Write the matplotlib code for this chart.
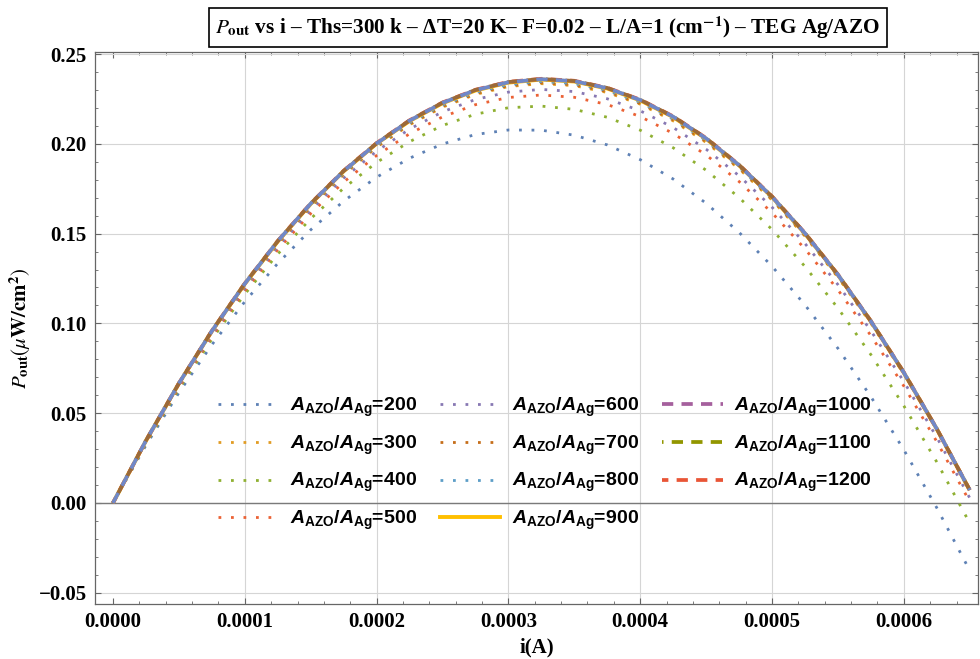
import matplotlib
matplotlib.use("Agg")
import matplotlib.pyplot as plt
from matplotlib.lines import Line2D
from matplotlib.ticker import FixedLocator, MultipleLocator, FuncFormatter

# ---------------- data ----------------
current_A = [0.0, 0.000025, 0.00005, 0.000075, 0.0001, 0.000125, 0.00015, 0.000175,
             0.0002, 0.000225, 0.00025, 0.000275, 0.0003, 0.000325, 0.00035, 0.000375,
             0.0004, 0.000425, 0.00045, 0.000475, 0.0005, 0.000525, 0.00055, 0.000575,
             0.0006, 0.000625, 0.00065]

ratios = [200, 300, 400, 500, 600, 700, 800, 900, 1000, 1100, 1200]

p_200 = [0, 0.0321, 0.0614, 0.0881, 0.1121, 0.1334, 0.1521, 0.1681, 0.1814, 0.1920, 0.1999, 0.2052, 0.2077, 0.2076,
         0.2048, 0.1994, 0.1912, 0.1804, 0.1669, 0.1507, 0.1318, 0.1103, 0.0861, 0.0592, 0.0296, -0.0027, -0.0376]
p_300 = [0, 0.0343, 0.0659, 0.0947, 0.1208, 0.1442, 0.1649, 0.1829, 0.1981, 0.2106, 0.2204, 0.2275, 0.2319, 0.2335,
         0.2324, 0.2286, 0.2221, 0.2128, 0.2008, 0.1861, 0.1687, 0.1486, 0.1257, 0.1001, 0.0718, 0.0408, 0.0071]
p_400 = [0, 0.0331, 0.0635, 0.0912, 0.1163, 0.1386, 0.1583, 0.1753, 0.1896, 0.2012, 0.2102, 0.2165, 0.2201, 0.2210,
         0.2192, 0.2148, 0.2076, 0.1978, 0.1853, 0.1701, 0.1523, 0.1317, 0.1085, 0.0826, 0.0541, 0.0228, -0.0112]
p_500 = [0, 0.0336, 0.0645, 0.0927, 0.1182, 0.1411, 0.1612, 0.1787, 0.1935, 0.2056, 0.2150, 0.2218, 0.2258, 0.2272,
         0.2259, 0.2219, 0.2152, 0.2058, 0.1938, 0.1790, 0.1616, 0.1415, 0.1187, 0.0932, 0.0651, 0.0342, 0.0007]
p_600 = [0, 0.0340, 0.0652, 0.0938, 0.1196, 0.1428, 0.1632, 0.1809, 0.1959, 0.2082, 0.2178, 0.2247, 0.2288, 0.2303,
         0.2291, 0.2251, 0.2184, 0.2091, 0.1970, 0.1822, 0.1647, 0.1445, 0.1216, 0.0959, 0.0676, 0.0366, 0.0028]
p_700 = [0, 0.0344, 0.0660, 0.0949, 0.1211, 0.1445, 0.1653, 0.1833, 0.1985, 0.2111, 0.2209, 0.2280, 0.2324, 0.2340,
         0.2329, 0.2291, 0.2225, 0.2133, 0.2013, 0.1865, 0.1691, 0.1489, 0.1260, 0.1004, 0.0720, 0.0409, 0.0071]
p_800 = [0, 0.0345, 0.0662, 0.0952, 0.1214, 0.1450, 0.1658, 0.1838, 0.1991, 0.2117, 0.2216, 0.2287, 0.2330, 0.2347,
         0.2336, 0.2298, 0.2232, 0.2139, 0.2019, 0.1871, 0.1696, 0.1493, 0.1264, 0.1007, 0.0722, 0.0410, 0.0071]
p_900 = [0, 0.0346, 0.0665, 0.0956, 0.1220, 0.1456, 0.1665, 0.1847, 0.2001, 0.2127, 0.2226, 0.2297, 0.2341, 0.2358,
         0.2347, 0.2308, 0.2242, 0.2149, 0.2028, 0.1880, 0.1704, 0.1500, 0.1270, 0.1011, 0.0725, 0.0412, 0.0071]
p_1000 = [0, 0.0347, 0.0666, 0.0957, 0.1221, 0.1458, 0.1667, 0.1848, 0.2002, 0.2129, 0.2228, 0.2299, 0.2343, 0.2360,
          0.2349, 0.2310, 0.2244, 0.2151, 0.2030, 0.1881, 0.1705, 0.1502, 0.1271, 0.1012, 0.0726, 0.0413, 0.0072]
p_1100 = [0, 0.0347, 0.0666, 0.0958, 0.1222, 0.1458, 0.1667, 0.1849, 0.2003, 0.2130, 0.2229, 0.2300, 0.2344, 0.2361,
          0.2350, 0.2311, 0.2245, 0.2152, 0.2031, 0.1882, 0.1706, 0.1502, 0.1271, 0.1013, 0.0726, 0.0413, 0.0072]
p_1200 = [0, 0.0347, 0.0666, 0.0958, 0.1222, 0.1459, 0.1668, 0.1850, 0.2004, 0.2131, 0.2230, 0.2301, 0.2345, 0.2362,
          0.2351, 0.2312, 0.2246, 0.2153, 0.2032, 0.1883, 0.1707, 0.1503, 0.1272, 0.1013, 0.0727, 0.0413, 0.0072]

series = [p_200, p_300, p_400, p_500, p_600, p_700, p_800, p_900, p_1000, p_1100, p_1200]

x_ticks = [0.0, 0.0001, 0.0002, 0.0003, 0.0004, 0.0005, 0.0006]
y_ticks = [-0.05, 0.0, 0.05, 0.10, 0.15, 0.20, 0.25]

# ---------------- styles ----------------
legend_colors = ['#5E81B5', '#E19C24', '#8FB032', '#EB6235', '#8778B3', '#C56E1A',
                 '#5D9EC7', '#FFBF00', '#A5609D', '#929600', '#E95536']
plot_colors = ['#5E81B5', '#E19C24', '#8FB032', '#EB6235', '#8778B3', '#C56E1A',
               '#5D9EC7', '#FFBF00', '#7088C8', '#9A6A3A', '#E95536']
dot = (0, (1, 3.5))
dash = (3.0, 2.2)
styles = [dot] * 7 + ['-'] + [(0, dash), (2.6, dash), (1.3, dash)]
widths = [2.0] * 7 + [2.8] + [2.7, 2.7, 2.7]
zorders = [3, 3.5, 3, 3, 3, 3.5, 3.5, 4, 6, 5.5, 5]

plt.rcParams['mathtext.fontset'] = 'custom'
plt.rcParams['mathtext.rm'] = 'Liberation Sans:bold'
plt.rcParams['mathtext.it'] = 'Liberation Sans:italic:bold'
plt.rcParams['mathtext.bf'] = 'Liberation Sans:bold'

serif = 'Liberation Serif'

fig = plt.figure(figsize=(9.8, 6.59), dpi=100)
ax = fig.add_axes([0.0969, 0.0835, 0.9011, 0.8375])

for vals, c, ls, lw, z in zip(series, plot_colors, styles, widths, zorders):
    ax.plot(current_A, vals, color=c, linestyle=ls, linewidth=lw, zorder=z,
            dash_capstyle='butt', solid_capstyle='butt')

ax.set_xlim(-0.00001366, 0.0006563)
ax.set_ylim(-0.05624, 0.2511)

ax.xaxis.set_major_locator(FixedLocator(x_ticks))
ax.yaxis.set_major_locator(FixedLocator(y_ticks))
ax.xaxis.set_minor_locator(MultipleLocator(0.00002))
ax.yaxis.set_minor_locator(MultipleLocator(0.01))
ax.xaxis.set_major_formatter(FuncFormatter(lambda v, p: f"{v:.4f}"))
ax.yaxis.set_major_formatter(FuncFormatter(lambda v, p: ("\u2212" if v < -1e-9 else "") + f"{abs(v):.2f}"))

ax.tick_params(which='both', direction='in', top=True, right=True, colors='#666666',
               labelcolor='black')
ax.tick_params(which='major', length=4, width=0.8, pad=6)
ax.tick_params(which='minor', length=2.2, width=0.6)
for lab in ax.get_xticklabels() + ax.get_yticklabels():
    lab.set_fontfamily(serif)
    lab.set_fontweight('bold')
    lab.set_fontsize(15)

for s in ax.spines.values():
    s.set_color('#666666')
    s.set_linewidth(0.9)

# grid
ax.grid(True, axis='y', color='#d5d5d5', linewidth=0.8, zorder=0)
ax.vlines(x_ticks[1:], -0.05624, 0.2511, colors='#d5d5d5', linewidth=0.8, zorder=0)
ax.axhline(0, color='#7a7a7a', linewidth=1.0, zorder=1)
ax.set_axisbelow(True)

ax.set_xlabel('i(A)', fontfamily=serif, fontweight='bold', fontsize=15, labelpad=4)
ax.set_ylabel(r'$P_{\mathbf{out}}(\mu\mathbf{W/cm}^{\mathbf{2}})$', fontfamily=serif,
              fontsize=15, labelpad=4, math_fontfamily='stix')

fig.text(0.559, 0.958,
         r'$P_{\mathbf{out}}$' + ' vs i \u2013 Ths=300 k \u2013 \u0394T=20 K\u2013 F=0.02 \u2013 L/A=1 (cm$^{\mathbf{-1}}$) \u2013 TEG Ag/AZO',
         ha='center', va='center', fontfamily=serif, fontweight='bold', fontsize=15.3,
         math_fontfamily='stix',
         bbox=dict(boxstyle='square,pad=0.3', facecolor='white', edgecolor='black', linewidth=1.2))

# legend
handles = []
for r, c, ls, lw in zip(ratios, legend_colors, styles, widths):
    handles.append(Line2D([], [], color=c, linestyle=ls, linewidth=lw,
                          label=r'$A_{\mathrm{AZO}}/A_{\mathrm{Ag}}$=' + str(r)))
leg = fig.legend(handles=handles, loc='upper left', bbox_to_anchor=(208 / 980, 1 - 386 / 659),
                 ncol=3, frameon=False, borderpad=0, handlelength=3.1, handletextpad=0.6,
                 columnspacing=1.2, labelspacing=0.75,
                 prop={'family': 'Liberation Sans', 'weight': 'bold', 'size': 14,
                       'math_fontfamily': 'custom'})
leg.set_zorder(10)

fig.savefig('out.png', dpi=100, facecolor='white')
